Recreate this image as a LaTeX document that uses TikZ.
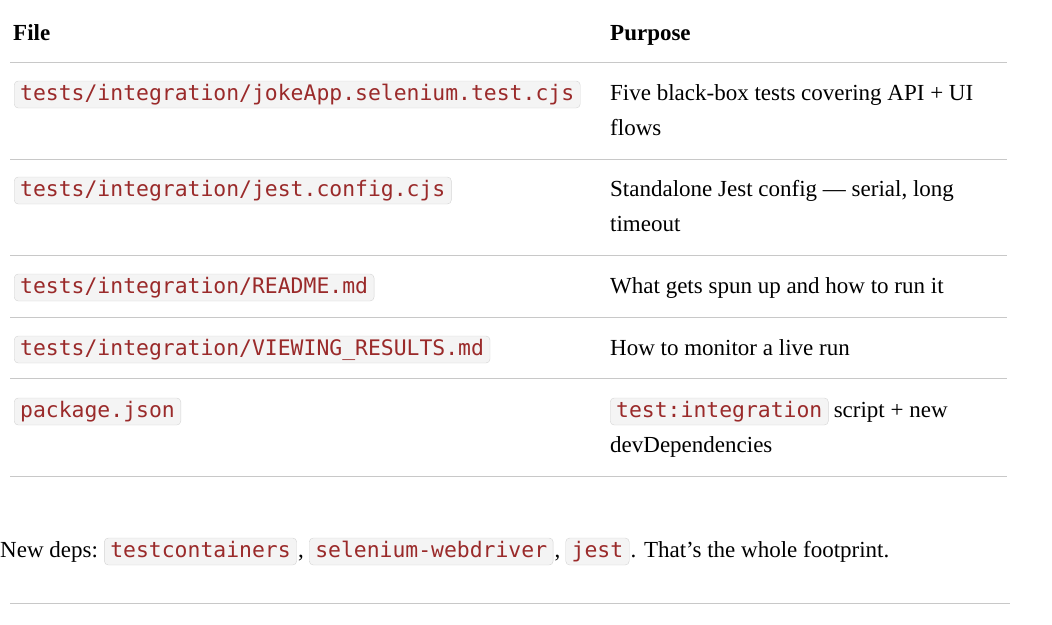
\documentclass[tikz,border=0pt]{standalone}
\usepackage{fontspec}
\setmainfont{Liberation Serif}
\setmonofont{DejaVu Sans Mono}
\usetikzlibrary{positioning}
\definecolor{codered}{HTML}{9A2A2A}
\definecolor{codebg}{HTML}{F4F4F4}
\definecolor{codeline}{HTML}{D4D4D4}
\definecolor{rule}{HTML}{C8C8C8}
\tikzset{
  txt/.style={anchor=base west, inner sep=0pt, font=\fontsize{23}{27}\selectfont},
  hdr/.style={txt, font=\fontsize{23}{27}\selectfont\bfseries},
  code/.style={anchor=base west, inner xsep=6pt, inner ysep=0pt, text height=19pt, text depth=8pt,
    fill=codebg, draw=codeline, rounded corners=4pt, text=codered,
    font=\fontsize{21.4}{25}\selectfont\ttfamily},
  sep/.style={draw=rule, line width=0.8pt}
}
\begin{document}
\begin{tikzpicture}[x=1pt,y=-1pt]
  \useasboundingbox (0,0) rectangle (1052,624);
  % header
  \node[hdr] (hfile) at (13,40) {File};
  \node[hdr] (hpurp) at (610,40) {Purpose};
  \draw[sep] (10,62) -- (1007,62);
  % row 1
  \node[code] (f1) at (14,100) {tests/integration/jokeApp.selenium.test.cjs};
  \node[txt] (p1a) at (610,100) {Five black-box tests covering API + UI};
  \node[txt] (p1b) at (610,135) {flows};
  \draw[sep] (10,159) -- (1007,159);
  % row 2
  \node[code] (f2) at (14,196) {tests/integration/jest.config.cjs};
  \node[txt] (p2a) at (610,196) {Standalone Jest config — serial, long};
  \node[txt] (p2b) at (610,231) {timeout};
  \draw[sep] (10,255) -- (1007,255);
  % row 3
  \node[code] (f3) at (14,293) {tests/integration/README.md};
  \node[txt] (p3) at (610,293) {What gets spun up and how to run it};
  \draw[sep] (10,317) -- (1007,317);
  % row 4
  \node[code] (f4) at (14,355) {tests/integration/VIEWING\_RESULTS.md};
  \node[txt] (p4) at (610,355) {How to monitor a live run};
  \draw[sep] (10,378) -- (1007,378);
  % row 5
  \node[code] (f5) at (14,417) {package.json};
  \node[code] (p5c) at (610,417) {test:integration};
  \node[txt, right=5pt of p5c.base east, anchor=base west] (p5a) {script + new};
  \node[txt] (p5b) at (610,452) {devDependencies};
  \draw[sep] (10,476) -- (1007,476);
  % footnote line
  \node[txt] (deps) at (0,557) {New deps:};
  \node[code, right=6pt of deps.base east, anchor=base west] (d1) {testcontainers};
  \node[txt, right=1pt of d1.base east, anchor=base west] (c1) {,};
  \node[code, right=5pt of c1.base east, anchor=base west] (d2) {selenium-webdriver};
  \node[txt, right=1pt of d2.base east, anchor=base west] (c2) {,};
  \node[code, right=5pt of c2.base east, anchor=base west] (d3) {jest};
  \node[txt, right=1pt of d3.base east, anchor=base west] (tail) {. That's the whole footprint.};
  \draw[sep] (10,603) -- (1010,603);
\end{tikzpicture}
\end{document}
